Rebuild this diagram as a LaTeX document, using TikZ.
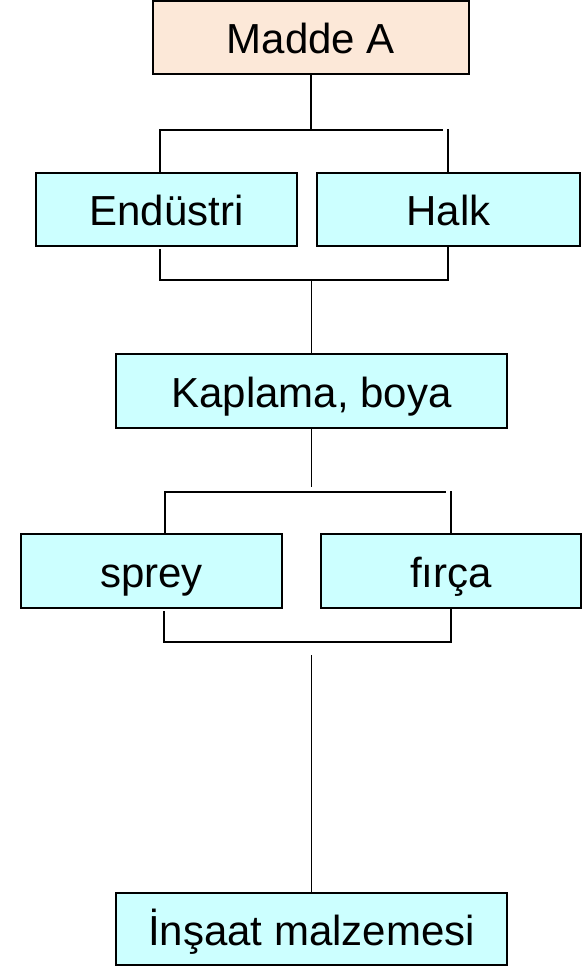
\documentclass[tikz,border=0pt]{standalone}
\usepackage{fontspec}
\setmainfont{Liberation Sans}
\definecolor{boxcyan}{HTML}{CCFFFF}
\definecolor{boxpeach}{HTML}{FCE8D8}
\begin{document}
\begin{tikzpicture}[x=1pt,y=-1pt,
  box/.style={draw=black, line width=1.6pt, fill=boxcyan, inner sep=0pt,
    text height=38pt, text depth=6pt, font=\fontsize{42}{48}\selectfont},
  conn/.style={draw=black, line width=1.5pt}]
\useasboundingbox (0,0) rectangle (582,966);
% boxes
\node[box, fill=boxpeach, minimum width=316pt, minimum height=73pt] (madde) at (311,37.5) {Madde A};
\node[box, minimum width=261pt, minimum height=73pt] (endu) at (166.5,209.5) {Endüstri};
\node[box, minimum width=263pt, minimum height=73pt] (halk) at (448.5,209.5) {Halk};
\node[box, minimum width=391pt, minimum height=74pt] (kap) at (311.5,391) {Kaplama, boya};
\node[box, minimum width=261pt, minimum height=74pt] (sprey) at (151.5,571) {sprey};
\node[box, minimum width=260pt, minimum height=74pt] (firca) at (451,571) {fırça};
\node[box, minimum width=391pt, minimum height=72pt] (ins) at (311.5,929) {İnşaat malzemesi};
% top bracket
\coordinate (a1) at (160,130);
\coordinate (a2) at (443,130);
\coordinate (a3) at (448,129);
\draw[conn] (madde.south) -- (madde.south |- a1);
\draw[conn] (a1 |- endu.north) -- (a1) -- (a2);
\draw[conn] (a3) -- (a3 |- halk.north);
% second bracket
\coordinate (b0) at (160,249);
\coordinate (b1) at (160,280);
\coordinate (b2) at (448,280);
\draw[conn] (b0) -- (b1) -- (b2) -- (b2 |- halk.south);
\draw[conn] (kap.north |- b1) -- (kap.north);
% third bracket
\coordinate (c0) at (311.5,487);
\coordinate (c1) at (165,492);
\coordinate (c2) at (446,492);
\coordinate (c3) at (451,491);
\draw[conn] (kap.south) -- (c0);
\draw[conn] (c1 |- sprey.north) -- (c1) -- (c2);
\draw[conn] (c3) -- (c3 |- firca.north);
% fourth bracket
\coordinate (d1) at (164,611);
\coordinate (d2) at (164,642);
\coordinate (d3) at (451,642);
\draw[conn] (d1) -- (d2) -- (d3) -- (d3 |- firca.south);
\coordinate (e0) at (311.5,655);
\draw[conn] (e0) -- (ins.north);
\end{tikzpicture}
\end{document}
